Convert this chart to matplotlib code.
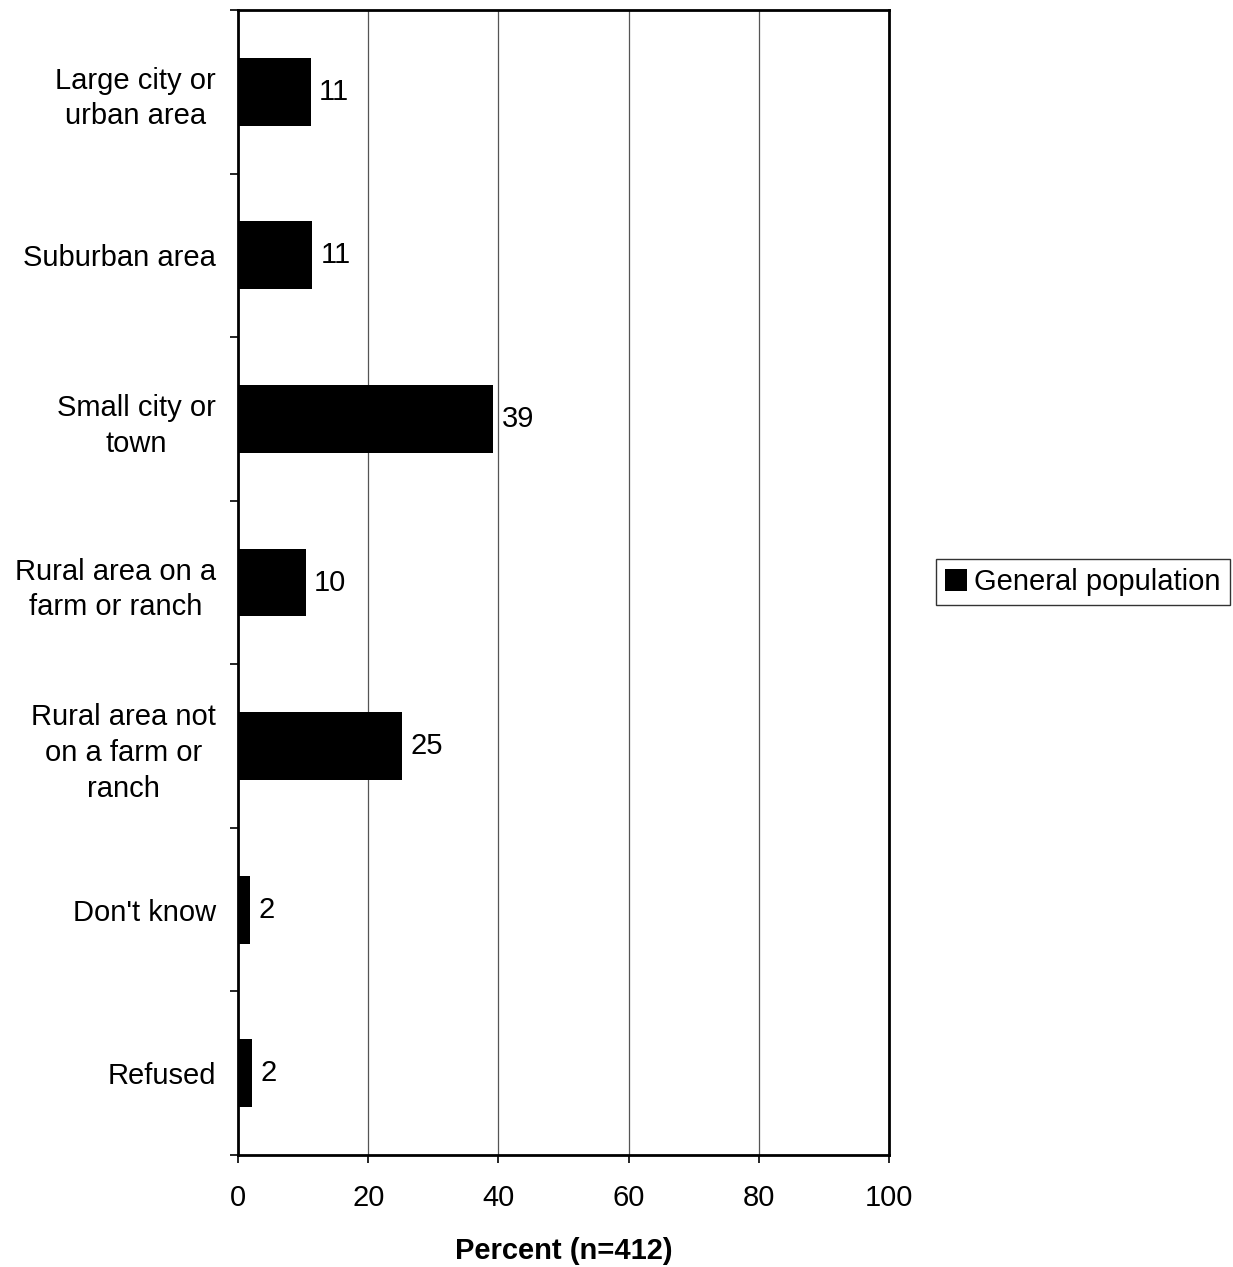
import matplotlib
matplotlib.use("Agg")
import matplotlib.pyplot as plt
import numpy as np

categories = ["Large city or\nurban area", "Suburban area", "Small city or\ntown",
              "Rural area on a\nfarm or ranch", "Rural area not\non a farm or\nranch",
              "Don't know", "Refused"]
values = [11.2, 11.4, 39.2, 10.4, 25.2, 1.8, 2.1]
series_name = "General population"
xticks = [0, 20, 40, 60, 80, 100]

plt.rcParams['font.family'] = ['Liberation Sans', 'DejaVu Sans']
FS = 21

fig = plt.figure(figsize=(12.33, 12.67), dpi=100)
ax = fig.add_axes([238/1233, 1-1155/1267, (889-238)/1233, (1155-10)/1267])

n = len(categories)
y = np.arange(n)
bars = ax.barh(y, values, height=0.415, color='black', label=series_name, zorder=3)
for yi, v in zip(y, values):
    ax.annotate(f"{v:.0f}", (v, yi), xytext=(6, 0), textcoords='offset points',
                va='center', ha='left', fontsize=FS)

ax.set_ylim(n - 0.5, -0.5)
ax.set_xlim(0, 100)
ax.set_xticks(xticks)
ax.set_xticklabels([str(t) for t in xticks], fontsize=FS)
ax.set_yticks(y)
ax.set_yticklabels(categories, fontsize=FS, multialignment='center', linespacing=1.35)
ax.set_yticks(np.arange(n + 1) - 0.5, minor=True)
ax.tick_params(axis='y', which='major', length=0, pad=16)
ax.tick_params(axis='y', which='minor', length=6, width=1.2, direction='out')
ax.tick_params(axis='x', which='major', length=6, width=1.2, direction='out', pad=15)
ax.xaxis.grid(True, color='#555555', linewidth=0.9, zorder=0)
for s in ax.spines.values():
    s.set_linewidth(2)
    s.set_color('black')

ax.set_xlabel("Percent (n=412)", fontsize=FS, fontweight='bold', labelpad=18)

leg = fig.legend(handles=[bars], labels=[series_name], loc='center',
                 bbox_to_anchor=(1083/1233, 1-582/1267), fontsize=FS, frameon=True,
                 fancybox=False, edgecolor='black', handlelength=0.75, handleheight=0.75,
                 handletextpad=0.25, borderpad=0.3, borderaxespad=0)
leg.get_frame().set_linewidth(1)

fig.savefig("out.png", dpi=100)
